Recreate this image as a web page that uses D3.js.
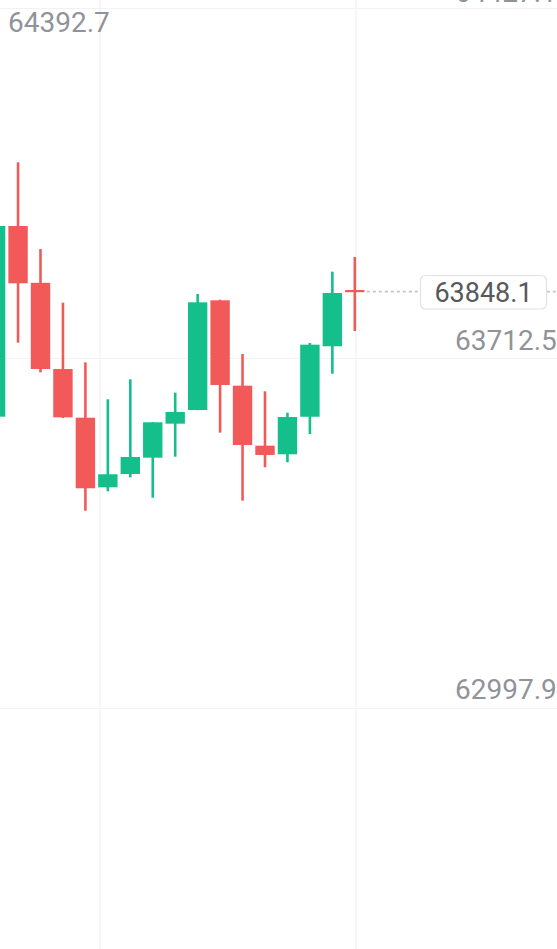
<!DOCTYPE html>
<html>
<head>
<meta charset="utf-8">
<script src="https://cdn.jsdelivr.net/npm/d3@7/dist/d3.min.js"></script>
<style>
  html, body { margin: 0; padding: 0; background: #ffffff; overflow: hidden; }
  svg { display: block; }
</style>
</head>
<body>
<svg id="chart" width="557" height="949"></svg>
<script>
// ---- data ----
const opens  = [63592.7, 63982.0, 63866.0, 63690.0, 63590.6, 63448.5, 63475.7, 63509.0, 63578.4, 63606.3, 63830.3, 63656.0, 63533.5, 63515.9, 63592.6, 63736.4, 63851.3];
const highs  = [64050.0, 64112.1, 63935.0, 63825.4, 63703.7, 63628.2, 63669.0, 63581.5, 63641.7, 63843.2, 63831.5, 63720.7, 63644.5, 63600.8, 63743.1, 63888.7, 63918.7];
const lows   = [63560.0, 63743.7, 63683.3, 63590.0, 63400.7, 63440.4, 63468.9, 63427.3, 63511.0, 63606.0, 63560.0, 63421.2, 63489.4, 63499.6, 63557.3, 63680.4, 63767.6];
const closes = [63982.0, 63865.0, 63690.0, 63591.4, 63446.5, 63475.1, 63510.4, 63581.2, 63602.3, 63826.2, 63657.4, 63534.9, 63514.5, 63592.0, 63739.7, 63845.2, 63848.1];
const priceTicks = [62997.9, 63712.5, 64427.1];
const priceTickLabels = ["62997.9", "63712.5", "64427.1"];
const timeTicks = [4.65, 16.05];      // vertical grid positions in candle-index units
const maxLabel = "64392.7";
const lastPrice = 63848.1;
const lastPriceLabel = "63848.1";

// ---- layout ----
const W = 557, H = 949;
const svg = d3.select("#chart");
const x = d3.scaleLinear().domain([0, 16]).range([-4.4, 354.8]);
const y = d3.scaleLinear().domain([62997.9, 64427.1]).range([708, 8]);
const bodyW = 19.4;
const UP = "#14bf8c", DOWN = "#f25a5a";
const candles = opens.map((o, i) => ({ i, o, h: highs[i], l: lows[i], c: closes[i] }));

// grid
svg.append("g").selectAll("line.h").data(priceTicks).join("line")
  .attr("x1", 0).attr("x2", W)
  .attr("y1", d => Math.round(y(d)) + 0.5).attr("y2", d => Math.round(y(d)) + 0.5)
  .attr("stroke", "#f2f2f4").attr("stroke-width", 1.2);
svg.append("g").selectAll("line.v").data(timeTicks).join("line")
  .attr("x1", d => x(d)).attr("x2", d => x(d))
  .attr("y1", 0).attr("y2", H)
  .attr("stroke", "#f3f3f5").attr("stroke-width", 1.5);

// candles
const g = svg.append("g");
g.selectAll("line.wick").data(candles).join("line")
  .attr("x1", d => x(d.i)).attr("x2", d => x(d.i))
  .attr("y1", d => y(d.h)).attr("y2", d => y(d.l))
  .attr("stroke", d => d.c >= d.o ? UP : DOWN)
  .attr("stroke-width", 2.6);
g.selectAll("rect.body").data(candles).join("rect")
  .attr("x", d => x(d.i) - bodyW / 2)
  .attr("width", bodyW)
  .attr("y", d => y(Math.max(d.o, d.c)))
  .attr("height", d => Math.max(2.2, Math.abs(y(d.o) - y(d.c))))
  .attr("fill", d => d.c >= d.o ? UP : DOWN);

// axis labels (right side)
const fontFam = "Roboto, 'Noto Sans', sans-serif";
const labelY = [698.5, 349.5, 1.5];
svg.append("g").selectAll("text").data(priceTicks).join("text")
  .attr("x", 455).attr("y", (d, i) => labelY[i])
  .attr("text-anchor", "start")
  .attr("font-family", fontFam).attr("font-size", 28)
  .attr("fill", "#909399")
  .text((d, i) => priceTickLabels[i]);

// top-left label
svg.append("text").attr("x", 8).attr("y", 32)
  .attr("font-family", fontFam).attr("font-size", 28)
  .attr("fill", "#909399").text(maxLabel);

// last price dotted line + box
const py = y(lastPrice);
svg.append("line").attr("x1", x(16) + 12).attr("x2", W)
  .attr("y1", py).attr("y2", py)
  .attr("stroke", "#c4c4c8").attr("stroke-width", 1.6)
  .attr("stroke-dasharray", "3,3");
svg.append("rect").attr("x", 420.5).attr("y", 275.5).attr("width", 126).attr("height", 33.5)
  .attr("rx", 5).attr("fill", "#ffffff").attr("stroke", "#e2e2e5").attr("stroke-width", 1.2);
svg.append("text").attr("x", 483.5).attr("y", 301.5)
  .attr("text-anchor", "middle")
  .attr("font-family", fontFam).attr("font-size", 27)
  .attr("fill", "#58585b").text(lastPriceLabel);
</script>
</body>
</html>
